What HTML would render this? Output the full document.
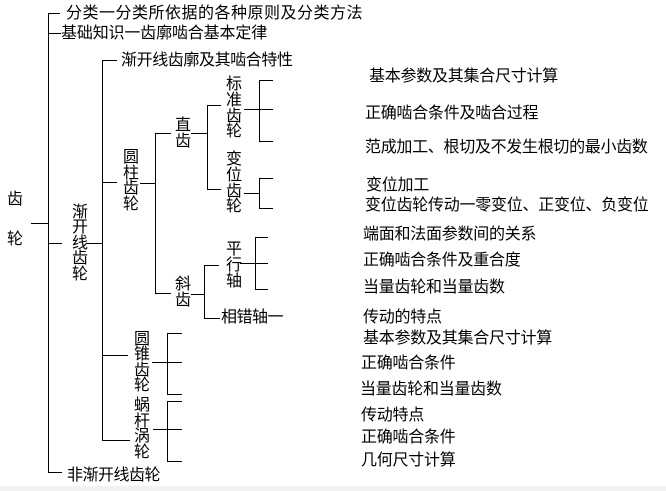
<!DOCTYPE html>
<html><head><meta charset="utf-8">
<style>
html,body{margin:0;padding:0;background:#fff;}
body{width:666px;height:491px;position:relative;overflow:hidden;font-family:"Liberation Sans","Noto Sans CJK SC","WenQuanYi Zen Hei",sans-serif;color:#000;}
.t{position:absolute;font-size:16px;line-height:16px;white-space:nowrap;}
.v{position:absolute;font-size:16px;width:16px;text-align:center;white-space:normal;}
svg{position:absolute;left:0;top:0;}
.band{position:absolute;left:0;top:486px;width:666px;height:5px;background:#f2f2f2;}
</style></head><body>
<svg width="666" height="491" viewBox="0 0 666 491" shape-rendering="crispEdges">
<g stroke="#000" stroke-width="1" fill="none">
<line x1="48.5" y1="13.5" x2="48.5" y2="472.5"/>
<line x1="48" y1="13.5" x2="60" y2="13.5"/>
<line x1="48" y1="33.5" x2="61" y2="33.5"/>
<line x1="31" y1="223.5" x2="48" y2="223.5"/>
<line x1="48" y1="243.5" x2="62" y2="243.5"/>
<line x1="48" y1="472.5" x2="62" y2="472.5"/>
<line x1="87" y1="243.5" x2="102" y2="243.5"/>
<line x1="102.5" y1="60.5" x2="102.5" y2="440.5"/>
<line x1="102" y1="60.5" x2="117" y2="60.5"/>
<line x1="102" y1="182.5" x2="117" y2="182.5"/>
<line x1="102" y1="355.5" x2="128" y2="355.5"/>
<line x1="102" y1="440.5" x2="130" y2="440.5"/>
<line x1="140" y1="183.5" x2="155" y2="183.5"/>
<line x1="155.5" y1="133.5" x2="155.5" y2="293.5"/>
<line x1="155" y1="133.5" x2="171" y2="133.5"/>
<line x1="155" y1="293.5" x2="171" y2="293.5"/>
<line x1="191" y1="133.5" x2="207" y2="133.5"/>
<line x1="207.5" y1="105.5" x2="207.5" y2="189.5"/>
<line x1="207" y1="105.5" x2="221" y2="105.5"/>
<line x1="207" y1="189.5" x2="221" y2="189.5"/>
<line x1="244" y1="109.5" x2="273" y2="109.5"/>
<line x1="259.5" y1="80.5" x2="259.5" y2="141.5"/>
<line x1="259" y1="80.5" x2="273" y2="80.5"/>
<line x1="259" y1="141.5" x2="273" y2="141.5"/>
<line x1="244" y1="193.5" x2="259" y2="193.5"/>
<line x1="259.5" y1="178.5" x2="259.5" y2="208.5"/>
<line x1="259" y1="178.5" x2="273" y2="178.5"/>
<line x1="259" y1="208.5" x2="273" y2="208.5"/>
<line x1="191" y1="294.5" x2="204" y2="294.5"/>
<line x1="204.5" y1="265.5" x2="204.5" y2="318.5"/>
<line x1="204" y1="265.5" x2="219" y2="265.5"/>
<line x1="204" y1="318.5" x2="220" y2="318.5"/>
<line x1="240" y1="263.5" x2="268" y2="263.5"/>
<line x1="255.5" y1="237.5" x2="255.5" y2="289.5"/>
<line x1="255" y1="237.5" x2="268" y2="237.5"/>
<line x1="255" y1="289.5" x2="268" y2="289.5"/>
<line x1="152" y1="362.5" x2="182" y2="362.5"/>
<line x1="167.5" y1="333.5" x2="167.5" y2="394.5"/>
<line x1="167" y1="333.5" x2="182" y2="333.5"/>
<line x1="167" y1="394.5" x2="182" y2="394.5"/>
<line x1="153" y1="429.5" x2="182" y2="429.5"/>
<line x1="167.5" y1="401.5" x2="167.5" y2="461.5"/>
<line x1="167" y1="401.5" x2="182" y2="401.5"/>
<line x1="167" y1="461.5" x2="182" y2="461.5"/>
</g>
</svg>

<div class="t" style="left:66px;top:6px;letter-spacing:0.5px;">分类一分类所依据的各种原则及分类方法</div>
<div class="t" style="left:61px;top:26px;letter-spacing:-0.15px;">基础知识一齿廓啮合基本定律</div>
<div class="t" style="left:121px;top:53px;letter-spacing:-0.4px;">渐开线齿廓及其啮合特性</div>
<div class="t" style="left:221px;top:310px;letter-spacing:-0.5px;">相错轴一</div>
<div class="t" style="left:67px;top:468px;letter-spacing:-0.5px;">非渐开线齿轮</div>

<div class="v" style="left:7px;top:192px;line-height:16px;">齿</div>
<div class="v" style="left:7px;top:232px;line-height:16px;">轮</div>
<div class="v" style="left:72px;top:205px;line-height:15.4px;">渐<br>开<br>线<br>齿<br>轮</div>
<div class="v" style="left:123px;top:150px;line-height:15.6px;">圆<br>柱<br>齿<br>轮</div>
<div class="v" style="left:175px;top:118px;line-height:15.5px;">直<br>齿</div>
<div class="v" style="left:175px;top:277px;line-height:16px;">斜<br>齿</div>
<div class="v" style="left:226px;top:77px;line-height:15.75px;">标<br>准<br>齿<br>轮</div>
<div class="v" style="left:226px;top:152px;line-height:15.75px;">变<br>位<br>齿<br>轮</div>
<div class="v" style="left:226px;top:242px;line-height:16px;">平<br>行<br>轴</div>
<div class="v" style="left:134px;top:332px;line-height:15.25px;">圆<br>锥<br>齿<br>轮</div>
<div class="v" style="left:134px;top:398px;line-height:15.5px;">蜗<br>杆<br>涡<br>轮</div>

<div class="t" style="left:369px;top:69px;letter-spacing:-0.25px;">基本参数及其集合尺寸计算</div>
<div class="t" style="left:365px;top:106px;letter-spacing:-0.25px;">正确啮合条件及啮合过程</div>
<div class="t" style="left:365px;top:140px;letter-spacing:-0.3px;">范成加工、根切及不发生根切的最小齿数</div>
<div class="t" style="left:366px;top:178px;letter-spacing:-0.25px;">变位加工</div>
<div class="t" style="left:365px;top:198px;letter-spacing:-0.25px;">变位齿轮传动一零变位、正变位、负变位</div>
<div class="t" style="left:363px;top:227px;letter-spacing:-0.25px;">端面和法面参数间的关系</div>
<div class="t" style="left:363px;top:253px;letter-spacing:-0.25px;">正确啮合条件及重合度</div>
<div class="t" style="left:363px;top:280px;letter-spacing:-0.25px;">当量齿轮和当量齿数</div>
<div class="t" style="left:363px;top:310px;letter-spacing:-0.25px;">传动的特点</div>
<div class="t" style="left:363px;top:331px;letter-spacing:-0.25px;">基本参数及其集合尺寸计算</div>
<div class="t" style="left:361px;top:356px;letter-spacing:-0.25px;">正确啮合条件</div>
<div class="t" style="left:360px;top:382px;letter-spacing:-0.25px;">当量齿轮和当量齿数</div>
<div class="t" style="left:361px;top:408px;letter-spacing:-0.25px;">传动特点</div>
<div class="t" style="left:361px;top:430px;letter-spacing:-0.25px;">正确啮合条件</div>
<div class="t" style="left:361px;top:453px;letter-spacing:-0.25px;">几何尺寸计算</div>

<div class="band"></div>
</body></html>
